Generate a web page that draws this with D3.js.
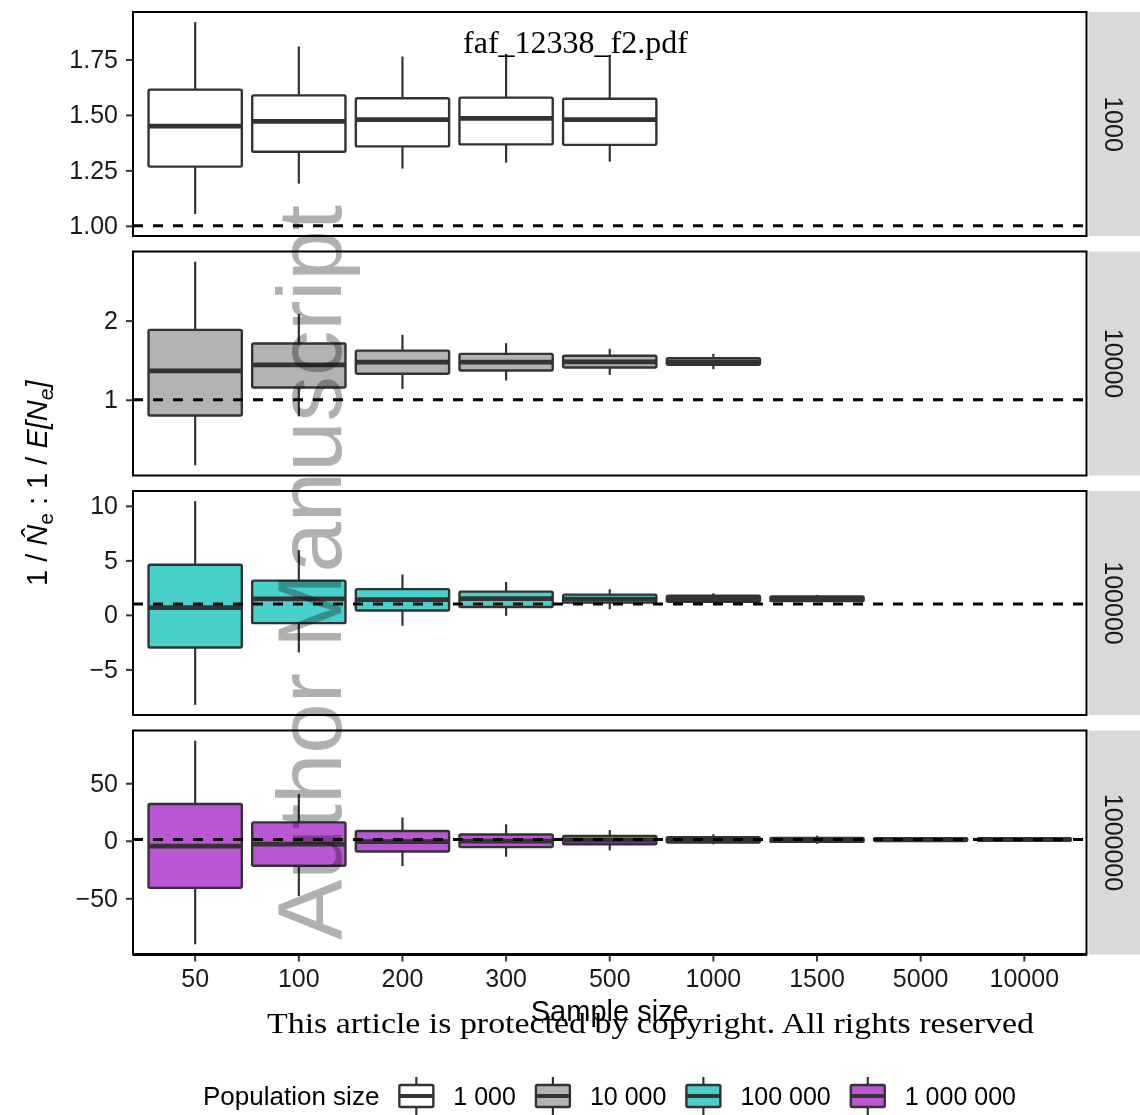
<!DOCTYPE html>
<html>
<head>
<meta charset="utf-8">
<script src="https://cdn.jsdelivr.net/npm/d3@7"></script>
<style>
  body { margin: 0; background: #fff; }
  svg { display: block; }
</style>
</head>
<body>
<div></div>
<script>
// Categories
const sampleSizes = ["50", "100", "200", "300", "500", "1000", "1500", "5000", "10000"];
const popSizes = ["1000", "10000", "100000", "1000000"];
const popLabels = ["1 000", "10 000", "100 000", "1 000 000"];
const popFills = ["#FFFFFF", "#B3B3B3", "#48D1CC", "#BA55D3"];

// Box stats per sample size: [lower whisker, q1, median, q3, upper whisker]
const box1000 = [
  [1.053, 1.267, 1.449, 1.614, 1.918],
  [1.190, 1.334, 1.471, 1.588, 1.808],
  [1.258, 1.358, 1.479, 1.575, 1.763],
  [1.285, 1.367, 1.484, 1.578, 1.775],
  [1.289, 1.365, 1.479, 1.573, 1.771]
];
const box10000 = [
  [0.172, 0.802, 1.366, 1.883, 2.744],
  [0.790, 1.155, 1.441, 1.710, 2.084],
  [1.137, 1.328, 1.475, 1.620, 1.820],
  [1.243, 1.370, 1.475, 1.580, 1.715],
  [1.315, 1.408, 1.479, 1.555, 1.643],
  [1.387, 1.441, 1.475, 1.525, 1.580]
];
const box100000 = [
  [-8.25, -2.99, 0.67, 4.60, 10.43],
  [-3.45, -0.76, 1.46, 3.14, 5.95],
  [-1.00, 0.40, 1.40, 2.36, 3.70],
  [-0.09, 0.72, 1.50, 2.13, 3.02],
  [0.52, 1.12, 1.45, 1.86, 2.35],
  [1.07, 1.20, 1.49, 1.76, 1.98],
  [1.16, 1.26, 1.49, 1.70, 1.83]
];
const box1000000 = [
  [-90.0, -40.9, -4.6, 31.9, 87.0],
  [-48.0, -21.7, -2.9, 16.0, 40.6],
  [-22.0, -9.3, -0.8, 8.5, 20.3],
  [-13.9, -5.5, -0.3, 5.5, 14.3],
  [-8.3, -3.0, 0.6, 4.3, 9.3],
  [-3.1, -1.6, 0.8, 3.0, 5.6],
  [-2.6, -1.0, 1.0, 2.4, 4.4],
  [-0.8, -0.3, 1.1, 2.3, 3.0],
  [-0.4, -0.1, 1.2, 2.2, 2.8]
];
const panelStats = [box1000, box10000, box100000, box1000000];

// Tick labels
const yTicks = [[1, 1.25, 1.5, 1.75], [1, 2], [-5, 0, 5, 10], [-50, 0, 50]];
const yFormats = [".2f", "d", "d", "d"];
const refLine = 1;

let width = 1140;
let height = 1115;

let panelLeft = 133;
let panelRight = 1086.5;
let panelTop = 12;
let panelHeight = 224;
let panelGap = 15.5;
let stripWidth = 60;

let sans = "'Liberation Sans', Arial, Helvetica, sans-serif";
let serif = "'Liberation Serif', 'Times New Roman', serif";

let svg = d3.select("div").append("svg")
  .attr("width", width)
  .attr("height", height);

let x = d3.scaleBand()
  .domain(sampleSizes)
  .range([panelLeft, panelRight])
  .paddingInner(0.1)
  .paddingOuter(0.15);

panelStats.forEach(function (stats, p) {
  let top = panelTop + p * (panelHeight + panelGap);
  let bottom = top + panelHeight;

  // ggplot-like range: data + reference line, expanded by 5%
  let vals = stats.flat().concat([refLine]);
  let lo = d3.min(vals), hi = d3.max(vals);
  let pad = (hi - lo) * 0.05;
  let y = d3.scaleLinear().domain([lo - pad, hi + pad]).range([bottom, top]);

  let g = svg.append("g");

  g.append("rect")
    .attr("x", panelLeft).attr("y", top)
    .attr("width", panelRight - panelLeft).attr("height", panelHeight)
    .style("fill", "#fff");

  let rows = stats.map((s, i) => ({ cat: sampleSizes[i], s: s }));
  let boxes = g.selectAll("g.box").data(rows).enter().append("g").attr("class", "box");
  let bw = x.bandwidth();

  boxes.append("line")
    .attr("x1", d => x(d.cat) + bw / 2).attr("x2", d => x(d.cat) + bw / 2)
    .attr("y1", d => y(d.s[4])).attr("y2", d => y(d.s[3]))
    .style("stroke", "#333").style("stroke-width", 2.2);
  boxes.append("line")
    .attr("x1", d => x(d.cat) + bw / 2).attr("x2", d => x(d.cat) + bw / 2)
    .attr("y1", d => y(d.s[1])).attr("y2", d => y(d.s[0]))
    .style("stroke", "#333").style("stroke-width", 2.2);
  boxes.append("rect")
    .attr("x", d => x(d.cat)).attr("width", bw)
    .attr("y", d => y(d.s[3]))
    .attr("height", d => y(d.s[1]) - y(d.s[3]))
    .attr("rx", 1.5)
    .style("fill", popFills[p])
    .style("stroke", "#333").style("stroke-width", 2.4);
  boxes.append("line")
    .attr("x1", d => x(d.cat)).attr("x2", d => x(d.cat) + bw)
    .attr("y1", d => y(d.s[2])).attr("y2", d => y(d.s[2]))
    .style("stroke", "#333").style("stroke-width", 4.8);

  // dashed reference line
  g.append("line")
    .attr("x1", panelLeft).attr("x2", panelRight)
    .attr("y1", y(refLine)).attr("y2", y(refLine))
    .style("stroke", "#000").style("stroke-width", 3)
    .style("stroke-dasharray", "10,10");

  g.append("rect")
    .attr("x", panelLeft).attr("y", top)
    .attr("width", panelRight - panelLeft).attr("height", panelHeight)
    .style("fill", "none").style("stroke", "#000").style("stroke-width", 2);

  // y axis
  let yAxis = d3.axisLeft(y)
    .tickValues(yTicks[p])
    .tickFormat(d3.format(yFormats[p]))
    .tickSize(7)
    .tickPadding(8);
  let ga = svg.append("g")
    .attr("transform", "translate(" + panelLeft + ",0)")
    .call(yAxis);
  ga.select(".domain").remove();
  ga.selectAll("line").style("stroke", "#333").style("stroke-width", 2);
  ga.selectAll("text")
    .style("font-family", sans).style("font-size", "25px").style("fill", "#1a1a1a");

  // strip
  svg.append("rect")
    .attr("x", panelRight + 2).attr("y", top)
    .attr("width", stripWidth).attr("height", panelHeight)
    .style("fill", "#D9D9D9");
  svg.append("text")
    .attr("transform", "translate(" + (panelRight + 27) + "," + (top + panelHeight / 2) + ") rotate(90)")
    .attr("text-anchor", "middle")
    .attr("dy", "0.35em")
    .style("font-family", sans).style("font-size", "25px").style("fill", "#1a1a1a")
    .text(popSizes[p]);

  if (p === panelStats.length - 1) {
    let xAxis = d3.axisBottom(x).tickSize(7).tickPadding(8);
    let gx = svg.append("g")
      .attr("transform", "translate(0," + bottom + ")")
      .call(xAxis);
    gx.select(".domain").remove();
    gx.selectAll("line").style("stroke", "#333").style("stroke-width", 2);
    gx.selectAll("text")
      .style("font-family", sans).style("font-size", "25px").style("fill", "#1a1a1a");
    svg.append("line")
      .attr("x1", panelLeft).attr("x2", panelRight)
      .attr("y1", bottom).attr("y2", bottom)
      .style("stroke", "#000").style("stroke-width", 3);
  }
});

// Axis titles
svg.append("text")
  .attr("x", (panelLeft + panelRight) / 2).attr("y", 1021)
  .attr("text-anchor", "middle")
  .style("font-family", sans).style("font-size", "29px").style("fill", "#000")
  .text("Sample size");

let ylab = svg.append("text")
  .attr("transform", "translate(47," + (panelTop + (4 * panelHeight + 3 * panelGap) / 2) + ") rotate(-90)")
  .attr("text-anchor", "middle")
  .style("font-family", sans).style("font-size", "29px").style("fill", "#000");
ylab.append("tspan").text("1 / ");
ylab.append("tspan").style("font-style", "italic").text("N\u0302");
ylab.append("tspan").attr("dy", 6).style("font-size", "21px").text("e");
ylab.append("tspan").attr("dy", -6).text(" : 1 / ");
ylab.append("tspan").style("font-style", "italic").text("E[N");
ylab.append("tspan").attr("dy", 6).style("font-size", "21px").style("font-style", "italic").text("e");
ylab.append("tspan").attr("dy", -6).style("font-style", "italic").text("]");

// Legend
let legY = 1096;
let legTitle = svg.append("text")
  .attr("x", 203).attr("y", 1104.5)
  .style("font-family", sans).style("font-size", "26px").style("fill", "#000")
  .text("Population size");
let lx = 203 + legTitle.node().getComputedTextLength() + 20;
popLabels.forEach(function (lab, i) {
  let kg = svg.append("g");
  kg.append("line")
    .attr("x1", lx + 17).attr("x2", lx + 17).attr("y1", 1077).attr("y2", 1116)
    .style("stroke", "#333").style("stroke-width", 2.2);
  kg.append("rect")
    .attr("x", lx).attr("y", 1085).attr("width", 34).attr("height", 22).attr("rx", 1.5)
    .style("fill", popFills[i]).style("stroke", "#333").style("stroke-width", 2.4);
  kg.append("line")
    .attr("x1", lx).attr("x2", lx + 34).attr("y1", legY).attr("y2", legY)
    .style("stroke", "#333").style("stroke-width", 4);
  let t = svg.append("text")
    .attr("x", lx + 54).attr("y", 1104.5)
    .style("font-family", sans).style("font-size", "25px").style("fill", "#000")
    .text(lab);
  lx = lx + 54 + t.node().getComputedTextLength() + 20;
});

// Watermarks from the source page
svg.append("text")
  .attr("transform", "translate(341,940) rotate(-90)")
  .attr("textLength", 735).attr("lengthAdjust", "spacingAndGlyphs")
  .style("font-family", sans).style("font-size", "90px")
  .style("fill", "#B0B0B0").style("mix-blend-mode", "multiply")
  .text("Author Manuscript");

svg.append("text")
  .attr("x", 463).attr("y", 53)
  .attr("textLength", 225).attr("lengthAdjust", "spacingAndGlyphs")
  .style("font-family", serif).style("font-size", "31px").style("fill", "#000")
  .text("faf_12338_f2.pdf");

svg.append("text")
  .attr("x", 267).attr("y", 1032.5)
  .attr("textLength", 767).attr("lengthAdjust", "spacingAndGlyphs")
  .style("font-family", serif).style("font-size", "30px").style("fill", "#000")
  .text("This article is protected by copyright. All rights reserved");
</script>
</body>
</html>
